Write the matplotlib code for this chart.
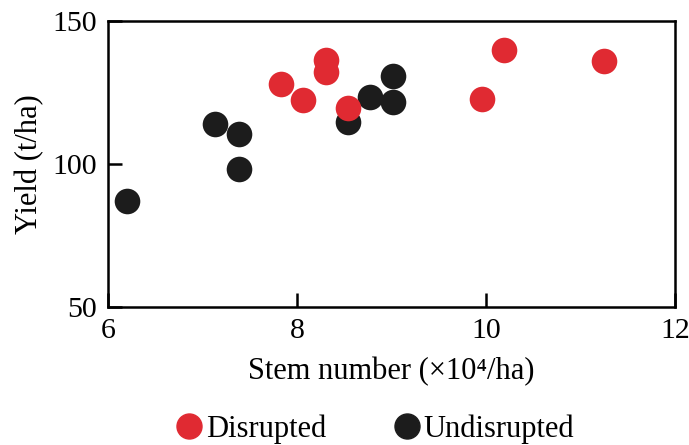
import matplotlib.pyplot as plt
from matplotlib.lines import Line2D

plt.rcParams['font.family'] = ['Liberation Serif', 'DejaVu Serif']

# Disrupted (red) points
disrupted_x = [7.83, 8.06, 8.30, 8.30, 8.54, 9.96, 10.19, 11.25]
disrupted_y = [128.1, 122.2, 136.5, 132.0, 119.4, 122.6, 139.7, 135.9]

# Undisrupted (black) points
undisrupted_x = [6.20, 7.13, 7.38, 7.38, 8.54, 8.77, 9.01, 9.01]
undisrupted_y = [86.9, 113.9, 110.4, 98.3, 114.5, 123.5, 130.9, 121.6]

xticks = [6, 8, 10, 12]
yticks = [50, 100, 150]

red = '#e02a32'
black = '#1c1c1c'

fig = plt.figure(figsize=(6.89, 4.45), dpi=100)
ax = fig.add_axes([0.157, 0.31, 0.823, 0.643])

ax.scatter(undisrupted_x, undisrupted_y, s=340, color=black, zorder=3, linewidths=0)
ax.scatter(disrupted_x, disrupted_y, s=340, color=red, zorder=4, linewidths=0)

ax.set_xlim(6, 12)
ax.set_ylim(50, 150)
ax.set_xticks(xticks)
ax.set_yticks(yticks)
ax.tick_params(direction='in', length=10, width=1.8, labelsize=21.5, pad=8)
for sp in ax.spines.values():
    sp.set_linewidth(1.8)

ax.set_xlabel('Stem number (×10⁴/ha)', fontsize=22, labelpad=9)
ax.set_ylabel('Yield (t/ha)', fontsize=22, labelpad=6)

handles = [
    Line2D([], [], marker='o', linestyle='', markersize=18, color=red, label='Disrupted'),
    Line2D([], [], marker='o', linestyle='', markersize=18, color=black, label='Undisrupted'),
]
fig.legend(handles=handles, loc='center', bbox_to_anchor=(0.543, 0.035), ncol=2,
           frameon=False, fontsize=22, handletextpad=0.05, columnspacing=2.15,
           handlelength=1.0)

fig.savefig('out.png', dpi=100)
